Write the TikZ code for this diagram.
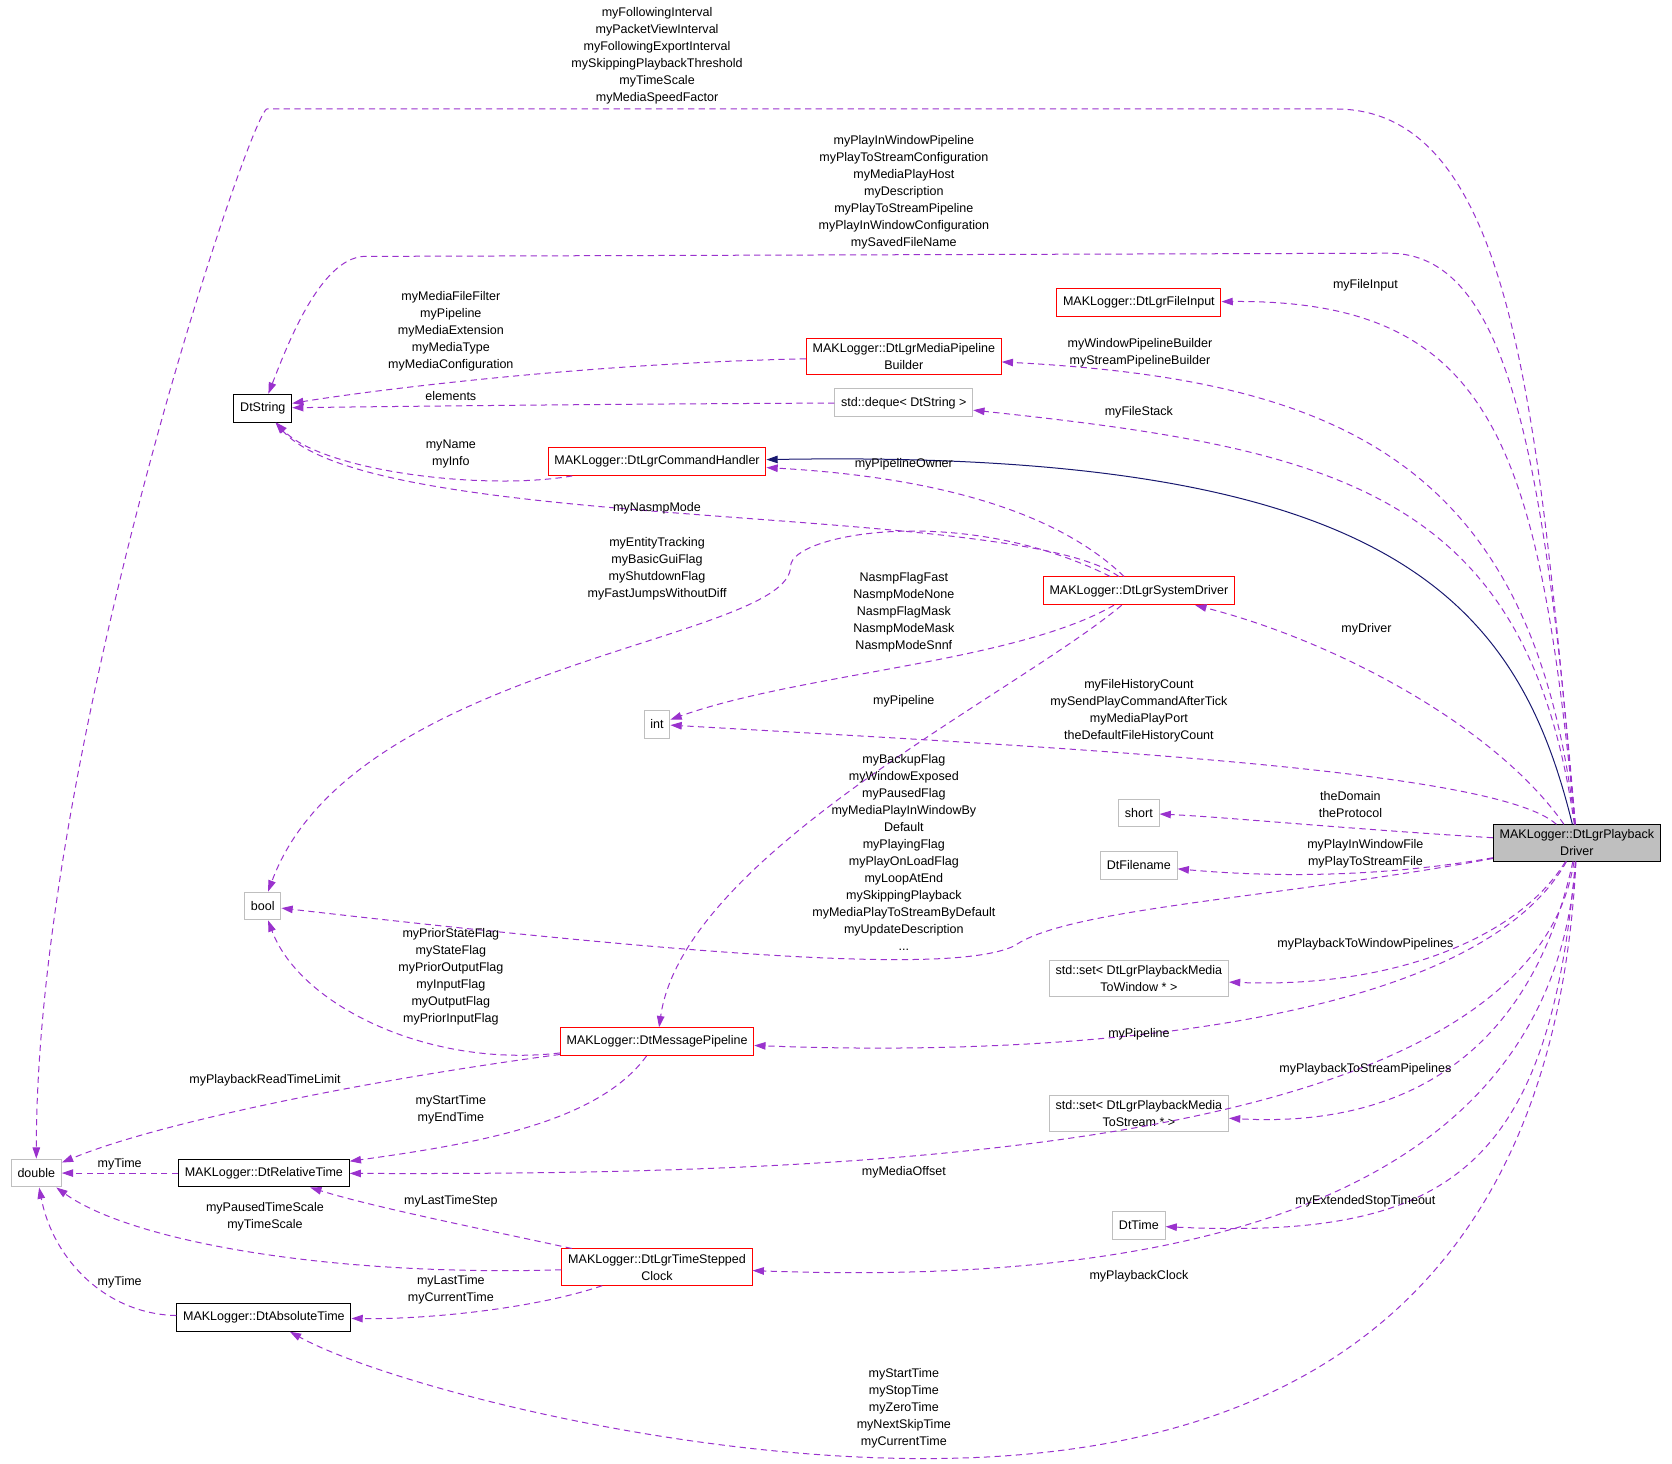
\documentclass[tikz,border=0pt]{standalone}
\usepackage{fontspec}
\setmainfont{Liberation Sans}
\usetikzlibrary{arrows.meta}
\definecolor{dep}{HTML}{9A32CD}
\definecolor{inh}{HTML}{191970}
\definecolor{gbox}{HTML}{BFBFBF}
\begin{document}
\begin{tikzpicture}[x=0.03cm,y=-0.03cm,
    every node/.style={font=\fontsize{10}{13.6}\selectfont},
    cls/.style={draw,line width=0.8pt,align=center,minimum height=0.78cm,inner xsep=5pt,inner ysep=4pt},
    red/.style={cls,draw=red},
    ext/.style={cls,draw=gbox},
    doc/.style={cls,draw=black},
    lbl/.style={align=center,inner sep=0pt},
    use/.style={draw=dep,line width=0.8pt,dash pattern=on 5pt off 3.5pt,-{Triangle[length=9pt,width=6pt]}},
    base/.style={draw=inh,line width=0.8pt,-{Triangle[length=9pt,width=6pt]}}]
    \useasboundingbox (0,0) rectangle (1565,1370);

    % classes
    \node[cls,fill=gbox] (drv) at (1476,789) {MAKLogger::DtLgrPlayback\\Driver};
    \node[red] (fin) at (1066,283) {MAKLogger::DtLgrFileInput};
    \node[red] (mpb) at (846,334) {MAKLogger::DtLgrMediaPipeline\\Builder};
    \node[ext] (dq) at (846,377) {std::deque< DtString >};
    \node[doc] (str) at (246,382) {DtString};
    \node[red] (cmd) at (615,432) {MAKLogger::DtLgrCommandHandler};
    \node[red] (sys) at (1066,553) {MAKLogger::DtLgrSystemDriver};
    \node[ext] (int) at (615,678) {int};
    \node[ext] (sh) at (1066,761) {short};
    \node[ext] (fn) at (1066,810) {DtFilename};
    \node[ext] (bool) at (246,848) {bool};
    \node[ext] (sw) at (1066,916) {std::set< DtLgrPlaybackMedia\\ToWindow * >};
    \node[red] (mp) at (615,975) {MAKLogger::DtMessagePipeline};
    \node[ext] (ss) at (1066,1042) {std::set< DtLgrPlaybackMedia\\ToStream * >};
    \node[ext] (dbl) at (34,1098) {double};
    \node[doc] (rt) at (247,1098) {MAKLogger::DtRelativeTime};
    \node[ext] (dtt) at (1066,1147) {DtTime};
    \node[red] (clk) at (615,1186) {MAKLogger::DtLgrTimeStepped\\Clock};
    \node[doc] (abs) at (247,1233) {MAKLogger::DtAbsoluteTime};

    % members of the driver
    \draw[use] (drv) .. controls (1440,400) and (1420,102) .. (1250,102) -- (250,102) .. controls (235,102) and (34,700) .. (dbl);
    \draw[use] (drv) .. controls (1445,420) and (1410,237) .. (1300,237) -- (340,240) .. controls (300,243) and (270,320) .. (str);
    \draw[use] (drv) .. controls (1440,420) and (1400,280) .. (fin);
    \draw[use] (drv) .. controls (1435,430) and (1250,355) .. (mpb);
    \draw[use] (drv) .. controls (1430,460) and (1250,420) .. (dq);
    \draw[base] (drv) .. controls (1420,560) and (1300,420) .. (cmd);
    \draw[use] (drv) .. controls (1400,680) and (1250,600) .. (sys);
    \draw[use] (drv) .. controls (1400,720) and (1000,700) .. (int);
    \draw[use] (drv) .. controls (1250,775) and (1150,765) .. (sh);
    \draw[use] (drv) .. controls (1300,820) and (1200,822) .. (fn);
    \draw[use] (drv) .. controls (1200,840) and (1000,850) .. (950,885) .. controls (900,910) and (700,900) .. (bool);
    \draw[use] (drv) .. controls (1420,880) and (1300,925) .. (sw);
    \draw[use] (drv) .. controls (1380,960) and (1000,990) .. (mp);
    \draw[use] (drv) .. controls (1430,1000) and (1300,1055) .. (ss);
    \draw[use] (drv) .. controls (1430,1080) and (800,1100) .. (rt);
    \draw[use] (drv) .. controls (1450,1100) and (1350,1160) .. (dtt);
    \draw[use] (drv) .. controls (1450,1170) and (1000,1200) .. (clk);
    \draw[use] (drv) .. controls (1450,1300) and (1100,1370) .. (840,1365) .. controls (600,1360) and (350,1290) .. (abs);

    % other members
    \draw[use] (mpb) .. controls (550,340) and (350,365) .. (str);
    \draw[use] (dq) .. controls (600,378) and (400,380) .. (str);
    \draw[use] (cmd) .. controls (450,460) and (300,440) .. (str);
    \draw[use] (sys) .. controls (950,470) and (350,500) .. (str);
    \draw[use] (sys) .. controls (980,470) and (850,445) .. (cmd);
    \draw[use] (sys) .. controls (900,470) and (740,500) .. (740,530) .. controls (740,600) and (330,620) .. (bool);
    \draw[use] (sys) .. controls (950,620) and (750,630) .. (int);
    \draw[use] (sys) .. controls (950,650) and (640,800) .. (mp);
    \draw[use] (mp) .. controls (400,1000) and (280,940) .. (bool);
    \draw[use] (mp) .. controls (350,1010) and (150,1050) .. (dbl);
    \draw[use] (mp) .. controls (560,1050) and (450,1070) .. (rt);
    \draw[use] (rt) -- (dbl);
    \draw[use] (clk) .. controls (450,1150) and (350,1130) .. (rt);
    \draw[use] (clk) .. controls (300,1195) and (120,1160) .. (dbl);
    \draw[use] (clk) .. controls (500,1225) and (400,1235) .. (abs);
    \draw[use] (abs) .. controls (100,1230) and (50,1180) .. (dbl);

    % labels
    \node[lbl] (l1) at (615,52) {myFollowingInterval\\myPacketViewInterval\\myFollowingExportInterval\\mySkippingPlaybackThreshold\\myTimeScale\\myMediaSpeedFactor};
    \node[lbl] (l2) at (846,180) {myPlayInWindowPipeline\\myPlayToStreamConfiguration\\myMediaPlayHost\\myDescription\\myPlayToStreamPipeline\\myPlayInWindowConfiguration\\mySavedFileName};
    \node[lbl] (l3) at (1278,267) {myFileInput};
    \node[lbl] (l4) at (1067,330) {myWindowPipelineBuilder\\myStreamPipelineBuilder};
    \node[lbl] (l5) at (1066,386) {myFileStack};
    \node[lbl] (l6) at (1279,589) {myDriver};
    \node[lbl] (l7) at (1066,665) {myFileHistoryCount\\mySendPlayCommandAfterTick\\myMediaPlayPort\\theDefaultFileHistoryCount};
    \node[lbl] (l8) at (1264,753) {theDomain\\theProtocol};
    \node[lbl] (l9) at (1278,799) {myPlayInWindowFile\\myPlayToStreamFile};
    \node[lbl] (l10) at (846,798) {myBackupFlag\\myWindowExposed\\myPausedFlag\\myMediaPlayInWindowBy\\Default\\myPlayingFlag\\myPlayOnLoadFlag\\myLoopAtEnd\\mySkippingPlayback\\myMediaPlayToStreamByDefault\\myUpdateDescription\\...};
    \node[lbl] (l11) at (1278,884) {myPlaybackToWindowPipelines};
    \node[lbl] (l12) at (1066,968) {myPipeline};
    \node[lbl] (l13) at (1278,1001) {myPlaybackToStreamPipelines};
    \node[lbl] (l14) at (846,1097) {myMediaOffset};
    \node[lbl] (l15) at (1278,1124) {myExtendedStopTimeout};
    \node[lbl] (l16) at (1066,1195) {myPlaybackClock};
    \node[lbl] (l17) at (846,1318) {myStartTime\\myStopTime\\myZeroTime\\myNextSkipTime\\myCurrentTime};
    \node[lbl] (l18) at (422,310) {myMediaFileFilter\\myPipeline\\myMediaExtension\\myMediaType\\myMediaConfiguration};
    \node[lbl] (l19) at (422,371) {elements};
    \node[lbl] (l20) at (422,425) {myName\\myInfo};
    \node[lbl] (l21) at (615,476) {myNasmpMode};
    \node[lbl] (l22) at (846,435) {myPipelineOwner};
    \node[lbl] (l23) at (615,532) {myEntityTracking\\myBasicGuiFlag\\myShutdownFlag\\myFastJumpsWithoutDiff};
    \node[lbl] (l24) at (846,573) {NasmpFlagFast\\NasmpModeNone\\NasmpFlagMask\\NasmpModeMask\\NasmpModeSnnf};
    \node[lbl] (l25) at (846,656) {myPipeline};
    \node[lbl] (l26) at (422,914) {myPriorStateFlag\\myStateFlag\\myPriorOutputFlag\\myInputFlag\\myOutputFlag\\myPriorInputFlag};
    \node[lbl] (l27) at (248,1011) {myPlaybackReadTimeLimit};
    \node[lbl] (l28) at (422,1039) {myStartTime\\myEndTime};
    \node[lbl] (l29) at (112,1090) {myTime};
    \node[lbl] (l30) at (422,1124) {myLastTimeStep};
    \node[lbl] (l31) at (248,1139) {myPausedTimeScale\\myTimeScale};
    \node[lbl] (l32) at (422,1207) {myLastTime\\myCurrentTime};
    \node[lbl] (l33) at (112,1200) {myTime};
\end{tikzpicture}
\end{document}
